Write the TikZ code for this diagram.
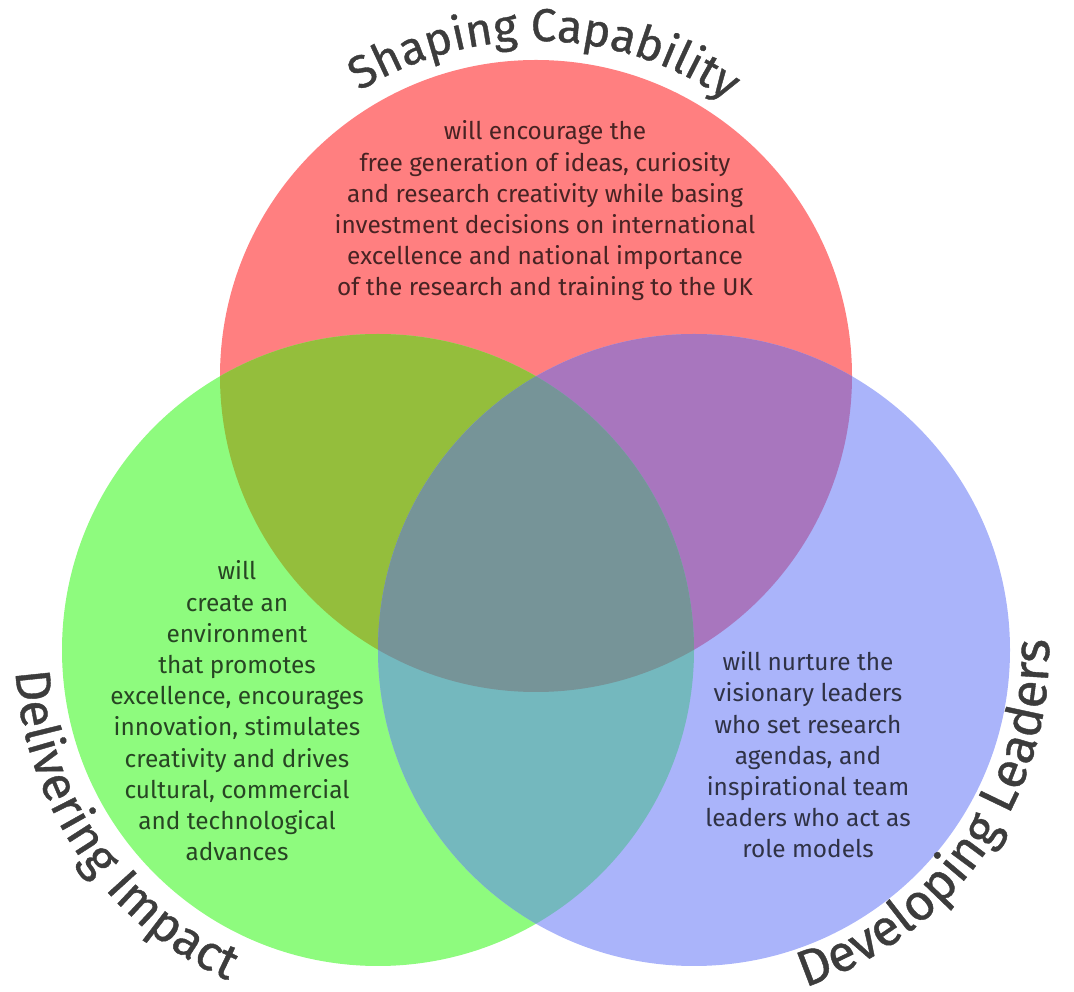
\documentclass[tikz,border=0pt]{standalone}
\usepackage{fontspec}
\setmainfont{Fira Sans}
\newfontfamily\titlefont{Fira Sans}[FakeBold=0.8]
\usetikzlibrary{decorations.text,calc}
\definecolor{cR}{HTML}{FF7F80}
\definecolor{cG}{HTML}{8EFB7E}
\definecolor{cB}{HTML}{AAB4FA}
\definecolor{cRG}{HTML}{94BE3C}
\definecolor{cRB}{HTML}{A876BE}
\definecolor{cGB}{HTML}{74B8BE}
\definecolor{cRGB}{HTML}{769498}
\definecolor{titlegray}{HTML}{3C3C3C}
\begin{document}
\begin{tikzpicture}[x=1pt,y=1pt,
  body/.style={align=center, font=\fontsize{24.4}{31.2}\selectfont, text=black, text opacity=0.72, inner sep=0pt},
  title/.style={decorate, decoration={text along path, text align=center, text color=titlegray}}
]
\useasboundingbox (0,0) rectangle (1074,991);
\coordinate (R) at (536,615);
\coordinate (G) at (378,341);
\coordinate (B) at (694,341);
\def\rad{316}
\fill[cR] (R) circle[radius=\rad];
\fill[cG] (G) circle[radius=\rad];
\fill[cB] (B) circle[radius=\rad];
\begin{scope}
  \clip (R) circle[radius=\rad];
  \fill[cRG] (G) circle[radius=\rad];
  \fill[cRB] (B) circle[radius=\rad];
\end{scope}
\begin{scope}
  \clip (G) circle[radius=\rad];
  \fill[cGB] (B) circle[radius=\rad];
  \clip (R) circle[radius=\rad];
  \fill[cRGB] (B) circle[radius=\rad];
\end{scope}

\path[title, decoration={text={|\titlefont\fontsize{46}{48}\selectfont|Shaping Capability}}]
  ($(R)+(148.5:335)$) arc[start angle=148.5, end angle=28.5, radius=335];
\path[title, decoration={text={|\titlefont\fontsize{49.5}{50}\selectfont|Delivering Impact}}]
  ($(G)+(154.5:363)$) arc[start angle=154.5, end angle=274.5, radius=363];
\path[title, decoration={text={|\titlefont\fontsize{51}{52}\selectfont|Developing Leaders}}]
  ($(B)+(265:355)$) arc[start angle=265, end angle=385, radius=355];

\node[body] (redtext) at (545,780) {will encourage the\\free generation of ideas, curiosity\\and research creativity while basing\\investment decisions on international\\excellence and national importance\\of the research and training to the UK};
\node[body] (greentext) at (237,280) {will\\create an\\environment\\that promotes\\excellence, encourages\\innovation, stimulates\\creativity and drives\\cultural, commercial\\and technological\\advances};
\node[body] (bluetext) at (808,236) {will nurture the\\visionary leaders\\who set research\\agendas, and\\inspirational team\\leaders who act as\\role models};
\end{tikzpicture}
\end{document}
